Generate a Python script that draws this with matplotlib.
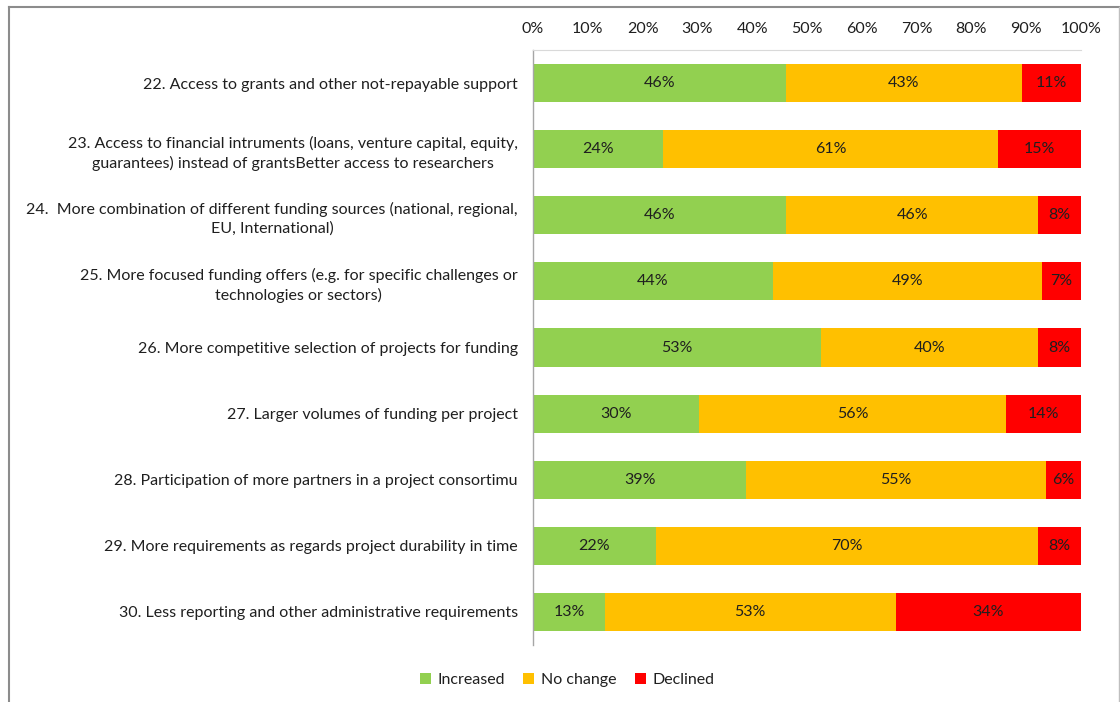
import matplotlib
matplotlib.use("Agg")
import matplotlib.pyplot as plt
from matplotlib.lines import Line2D
from matplotlib.patches import Patch

plt.rcParams['font.family'] = ['Lato', 'DejaVu Sans']

categories = [
    "22. Access to grants and other not-repayable support",
    "23. Access to financial intruments (loans, venture capital, equity,\nguarantees) instead of grantsBetter access to researchers",
    "24.  More combination of different funding sources (national, regional,\nEU, International)",
    "25. More focused funding offers (e.g. for specific challenges or\ntechnologies or sectors)",
    "26. More competitive selection of projects for funding",
    "27. Larger volumes of funding per project",
    "28. Participation of more partners in a project consortimu",
    "29. More requirements as regards project durability in time",
    "30. Less reporting and other administrative requirements",
]
series_names = ["Increased", "No change", "Declined"]
increased = [46.2, 23.7, 46.2, 43.8, 52.6, 30.3, 38.9, 22.4, 13.1]
no_change = [43.0, 61.2, 46.0, 49.1, 39.6, 56.0, 54.7, 69.8, 53.1]
declined = [10.8, 15.1, 7.8, 7.1, 7.8, 13.7, 6.4, 7.8, 33.8]
xticks = [0, 10, 20, 30, 40, 50, 60, 70, 80, 90, 100]
xtick_labels = [f"{t}%" for t in xticks]

colors = ["#92D050", "#FFC000", "#FF0000"]
text_color = "#1F1F1F"
fs = 11.5

fig = plt.figure(figsize=(11.2, 7.02), dpi=100)
ax = fig.add_axes([533/1120, 1-645/702, (1081-533)/1120, (645-50)/702])

y = list(range(len(categories)))
left = [0]*len(categories)
for vals, c, name in zip([increased, no_change, declined], colors, series_names):
    ax.barh(y, vals, left=left, height=0.575, color=c, label=name, edgecolor='none')
    for yi, l, v in zip(y, left, vals):
        ax.text(l + v/2, yi, f"{v:.0f}%", ha='center', va='center', fontsize=fs, color=text_color)
    left = [a + b for a, b in zip(left, vals)]

ax.set_xlim(0, 100)
ax.set_ylim(len(categories)-0.5, -0.5)
ax.xaxis.tick_top()
ax.set_xticks(xticks)
ax.set_xticklabels(xtick_labels, fontsize=fs, color=text_color)
ax.set_yticks(y)
ax.set_yticklabels(categories, fontsize=fs, color=text_color, multialignment='center', linespacing=1.4)
ax.tick_params(axis='both', length=0)
ax.tick_params(axis='x', pad=10)
ax.tick_params(axis='y', pad=11)
for s in ['right', 'bottom']:
    ax.spines[s].set_visible(False)
ax.spines['left'].set_color('#A6A6A6')
ax.spines['left'].set_linewidth(1.0)
ax.spines['top'].set_color('#D9D9D9')
ax.spines['top'].set_linewidth(0.8)

handles = [Patch(facecolor=c, edgecolor='none') for c in colors]
fig.legend(handles, series_names, loc='center', bbox_to_anchor=(567/1120, 1-680/702),
           ncol=3, frameon=False, fontsize=fs, handlelength=0.7, handleheight=0.7,
           handletextpad=0.4, columnspacing=1.15, labelcolor=text_color)

# outer chart frame
fc = '#8C8C8C'
fig.add_artist(Line2D([8.5/1120, 8.5/1120], [0, 1-6.5/702], transform=fig.transFigure, color=fc, lw=1.5))
fig.add_artist(Line2D([8.5/1120, 1119/1120], [1-6.5/702, 1-6.5/702], transform=fig.transFigure, color=fc, lw=1.5))
fig.add_artist(Line2D([1119/1120, 1119/1120], [0, 1-6.5/702], transform=fig.transFigure, color='#BFBFBF', lw=1.0))

fig.savefig("out.png", dpi=100)
